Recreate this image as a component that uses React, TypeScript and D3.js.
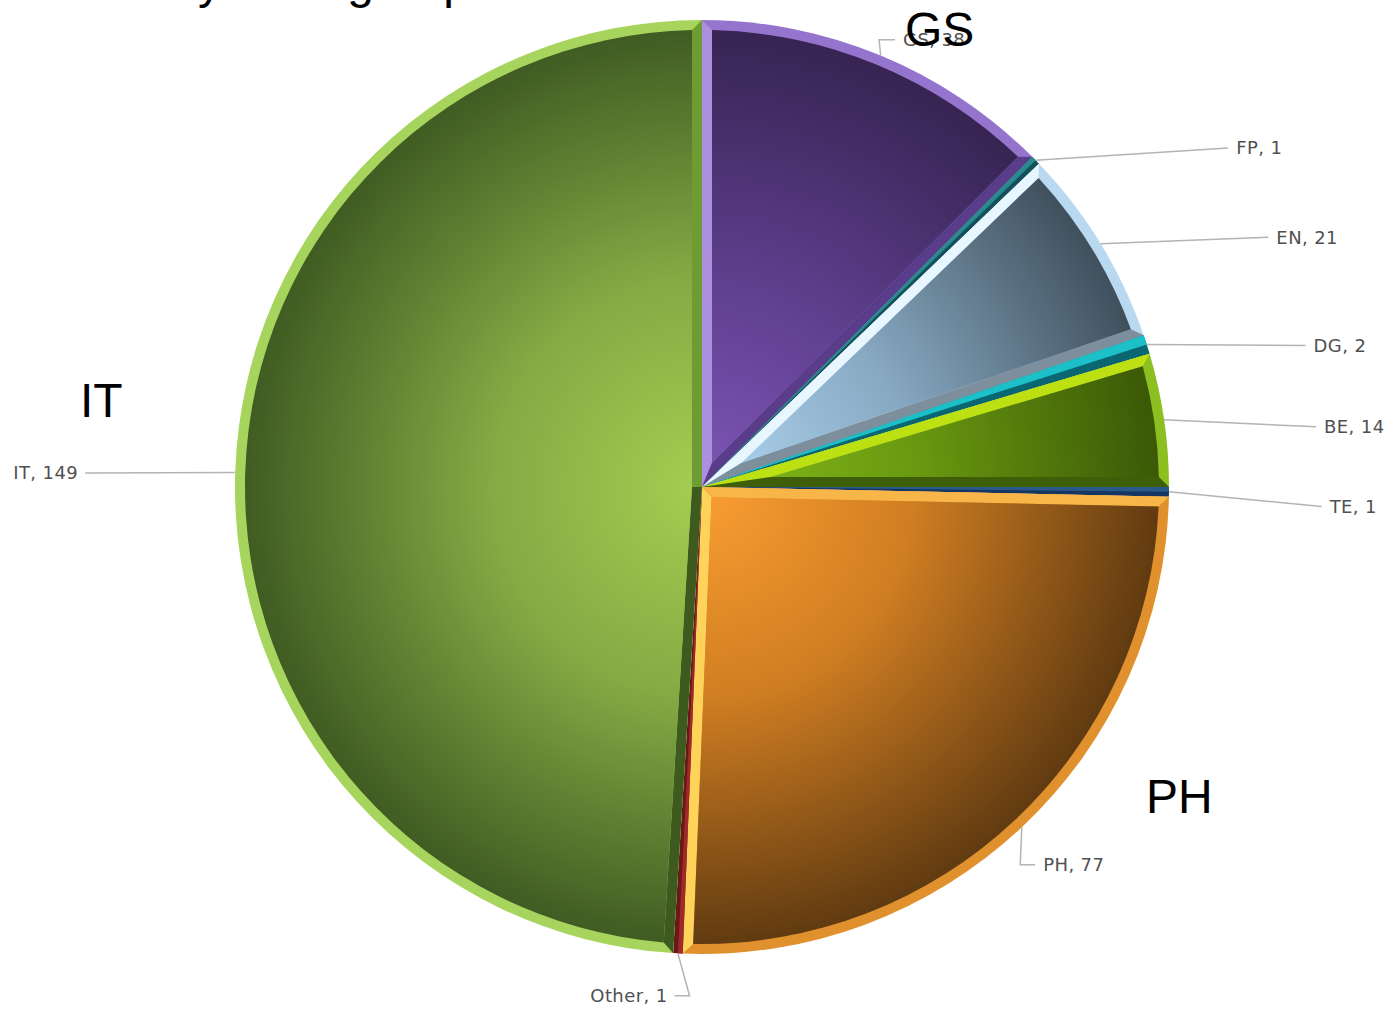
import React from 'react';
import * as d3 from 'd3';

// Headcount per group, drawn clockwise from 12 o'clock
const categories = ['GS', 'FP', 'EN', 'DG', 'BE', 'TE', 'PH', 'Other', 'IT'];
const counts = [38, 1, 21, 2, 14, 1, 77, 1, 149];
// Groups that also get a large callout name
const calloutGroups = ['GS', 'IT', 'PH'];
const chartTitle = 'Staff by Role group';

const W = 1400;
const H = 1009;
const cx = 702;
const cy = 487;
const R = 467;
const BEVEL = 10;

type Shade = {
  grad: [string, string, string];
  outer: string;
  start: string;
  end: string;
};

const shades: Record<string, Shade> = {
  GS: { grad: ['#7e56b6', '#5e3f8e', '#352350'], outer: '#9474cc', start: '#aa90de', end: '#5a3d8a' },
  FP: { grad: ['#1c6a70', '#1c6a70', '#1c6a70'], outer: '#1c6a70', start: '#2a8a90', end: '#14505a' },
  EN: { grad: ['#b0d6f2', '#88a9c2', '#3d4d59'], outer: '#b9d9f1', start: '#e8f7ff', end: '#7d8f9d' },
  DG: { grad: ['#10a0a8', '#10a0a8', '#10a0a8'], outer: '#10a0a8', start: '#1cc0c8', end: '#0a6670' },
  BE: { grad: ['#86ba1c', '#6a9a10', '#3a5606'], outer: '#8cc020', start: '#bce012', end: '#3e5e08' },
  TE: { grad: ['#1a3c6a', '#1a3c6a', '#1a3c6a'], outer: '#1a3c6a', start: '#2a5a8a', end: '#153660' },
  PH: { grad: ['#fa9e32', '#d07e22', '#5c3810'], outer: '#e0902c', start: '#f8b648', end: '#ffd35a' },
  Other: { grad: ['#7a2020', '#7a2020', '#7a2020'], outer: '#7a2020', start: '#a02a2a', end: '#6a1818' },
  IT: { grad: ['#a4ce50', '#84aa44', '#3d5921'], outer: '#a6d45c', start: '#3e5a1e', end: '#6c9c32' },
};

// Where each leader line bends: angle (deg, clockwise from top), radius, and horizontal tail
const labelPlacement: Record<string, { angle: number; radius: number; tail: number }> = {
  GS: { angle: 21.6, radius: 481, tail: 16 },
  FP: { angle: 57.2, radius: 626, tail: 0 },
  EN: { angle: 66.2, radius: 619, tail: 0 },
  DG: { angle: 76.8, radius: 620, tail: 0 },
  BE: { angle: 84.4, radius: 617, tail: 0 },
  TE: { angle: 91.8, radius: 620, tail: 0 },
  PH: { angle: 139.9, radius: 494, tail: 15 },
  Other: { angle: 181.4, radius: 509, tail: -15 },
  IT: { angle: 271.3, radius: 617, tail: 0 },
};

// Big callout names
const calloutPos: Record<string, [number, number]> = {
  GS: [905, 46],
  IT: [80, 417],
  PH: [1146, 813],
};

const pt = (a: number, r: number): [number, number] => [cx + r * Math.sin(a), cy - r * Math.cos(a)];
const poly = (ps: [number, number][]) => 'M' + ps.map((p) => p.join(',')).join('L') + 'Z';

export default function App() {
  const pie = d3.pie<number>().sort(null).value((d) => d);
  const arcs = pie(counts);
  const arcGen = d3.arc<d3.PieArcDatum<number>>().innerRadius(0).outerRadius(R);

  const slices = arcs.map((a, i) => {
    const name = categories[i];
    const s = shades[name];
    const a0 = a.startAngle;
    const a1 = a.endAngle;
    const half = (a1 - a0) / 2;
    const full = arcGen(a) as string;
    const apexDist = BEVEL / Math.sin(Math.min(half, Math.PI / 2));
    if (apexDist > R * 0.5) {
      // too thin for a frame: two-tone wedge
      const mid = { ...a, endAngle: (a0 + a1) / 2 };
      return (
        <g key={name} transform={`translate(${cx},${cy})`}>
          <path d={full} fill={s.end} />
          <path d={arcGen(mid) as string} fill={s.start} />
        </g>
      );
    }
    const ri = R - BEVEL;
    const da = Math.asin(BEVEL / ri);
    const apex = pt((a0 + a1) / 2, apexDist);
    const p0 = pt(a0, R);
    const p1 = pt(a1, R);
    const q0 = pt(a0 + da, ri);
    const q1 = pt(a1 - da, ri);
    const large = a1 - a0 - 2 * da > Math.PI ? 1 : 0;
    const inner = `M${apex.join(',')}L${q0.join(',')}A${ri},${ri} 0 ${large} 1 ${q1.join(',')}Z`;
    return (
      <g key={name}>
        <path d={full} transform={`translate(${cx},${cy})`} fill={s.outer} />
        <path d={poly([[cx, cy], p0, q0, apex])} fill={s.start} />
        <path d={poly([[cx, cy], p1, q1, apex])} fill={s.end} />
        <path d={inner} fill={`url(#grad-${name})`} />
      </g>
    );
  });

  const labels = arcs.map((a, i) => {
    const name = categories[i];
    const lp = labelPlacement[name];
    const mid = (a.startAngle + a.endAngle) / 2;
    const e = pt(mid, R);
    const b = pt((lp.angle * Math.PI) / 180, lp.radius);
    const t: [number, number] = [b[0] + lp.tail, b[1]];
    const right = lp.tail > 0 || (lp.tail === 0 && b[0] > cx);
    const tx = t[0] + (right ? 8 : -7);
    return (
      <g key={name}>
        <polyline
          points={[e, b, t].map((p) => p.join(',')).join(' ')}
          fill="none"
          stroke="#b4b4b4"
          strokeWidth={1.5}
        />
        <text
          x={tx}
          y={t[1]}
          dy="0.36em"
          textAnchor={right ? 'start' : 'end'}
          fontFamily="'DejaVu Sans', Verdana, sans-serif"
          fontSize={18}
          letterSpacing={0.4}
          fill="#505050"
        >
          {`${name}, ${a.data}`}
        </text>
      </g>
    );
  });

  return (
    <svg width={W} height={H} style={{ position: 'absolute', left: 0, top: 0, background: '#fff' }}>
      <defs>
        {categories.map((name) => (
          <radialGradient key={name} id={`grad-${name}`} gradientUnits="userSpaceOnUse" cx={cx} cy={cy} r={R}>
            <stop offset="0" stopColor={shades[name].grad[0]} />
            <stop offset="0.45" stopColor={shades[name].grad[1]} />
            <stop offset="1" stopColor={shades[name].grad[2]} />
          </radialGradient>
        ))}
      </defs>
      <text x={60} y={-2} fontFamily="'Liberation Sans', Arial, sans-serif" fontSize={48} fill="#000">
        {chartTitle}
      </text>
      {slices}
      {labels}
      {calloutGroups.map((name) => (
        <text
          key={name}
          x={calloutPos[name][0]}
          y={calloutPos[name][1]}
          fontFamily="'Liberation Sans', Arial, sans-serif"
          fontSize={48}
          fill="#000"
        >
          {name}
        </text>
      ))}
    </svg>
  );
}
